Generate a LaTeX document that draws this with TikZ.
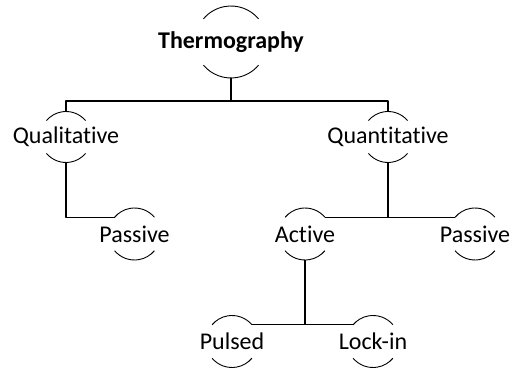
\documentclass[tikz,border=0pt]{standalone}
\usepackage{fontspec}
\setmainfont{Carlito}[Ligatures={NoCommon,NoContextual}]
\usepackage{tikz}

\begin{document}
\begin{tikzpicture}[line join=bevel,
		topic/.style={circle,minimum size=52bp,inner sep=0pt,outer sep=0pt,font=\fontsize{24bp}{28bp}\selectfont},
		link/.style={line width=1.2bp},
		rim/.style={line width=0.9bp},]
		%%
		\useasboundingbox (0bp,0bp) rectangle (510bp,371bp);
		\node (thermo) at (231.0bp,329.0bp) [topic,minimum size=72bp] {\makebox[0pt]{\bfseries Thermography}};
		  \node (qual) at (66.0bp,234.0bp) [topic,minimum size=51bp] {\makebox[0pt]{Qualitative}};
		  \node (quant) at (388.0bp,234.0bp) [topic,minimum size=51bp] {\makebox[0pt]{Quantitative}};
		  \node (pasl) at (134.5bp,137.0bp) [topic] {\makebox[0pt]{Passive}};
		  \node (act) at (305.0bp,137.0bp) [topic] {\makebox[0pt]{Active}};
		  \node (pasr) at (475.0bp,137.0bp) [topic] {\makebox[0pt]{Passive}};
		  \node (puls) at (232.0bp,29.5bp) [topic] {\makebox[0pt]{Pulsed}};
		  \node (lock) at (373.0bp,29.5bp) [topic] {\makebox[0pt]{Lock-in}};
		  \coordinate (split) at (231.0bp,270.0bp);
		  \draw [rim] (thermo.40) arc[start angle=40,end angle=140,radius=36bp] (thermo.220) arc[start angle=220,end angle=320,radius=36bp];
		  \draw [rim] (qual.40) arc[start angle=40,end angle=140,radius=25.5bp] (qual.220) arc[start angle=220,end angle=320,radius=25.5bp];
		  \draw [rim] (quant.40) arc[start angle=40,end angle=140,radius=25.5bp] (quant.220) arc[start angle=220,end angle=320,radius=25.5bp];
		  \draw [rim] (pasl.40) arc[start angle=40,end angle=140,radius=26bp] (pasl.220) arc[start angle=220,end angle=320,radius=26bp];
		  \draw [rim] (act.40) arc[start angle=40,end angle=140,radius=26bp] (act.220) arc[start angle=220,end angle=320,radius=26bp];
		  \draw [rim] (pasr.40) arc[start angle=40,end angle=140,radius=26bp] (pasr.220) arc[start angle=220,end angle=320,radius=26bp];
		  \draw [rim] (puls.40) arc[start angle=40,end angle=140,radius=26bp] (puls.220) arc[start angle=220,end angle=320,radius=26bp];
		  \draw [rim] (lock.40) arc[start angle=40,end angle=140,radius=26bp] (lock.220) arc[start angle=220,end angle=320,radius=26bp];
		  \draw [link] (thermo.south) -- (split);
		  \draw [link] (qual.north) |- (split) -| (quant.north);
		  \draw [link] (qual.south) |- (pasl.140);
		  \draw [link] (quant.south) -- (quant.south |- act.40);
		  \draw [link] (act.40) -- (pasr.140);
		  \draw [link] (act.south) -- (act.south |- puls.40);
		  \draw [link] (puls.40) -- (lock.140);
		%
	\end{tikzpicture}
\end{document}
